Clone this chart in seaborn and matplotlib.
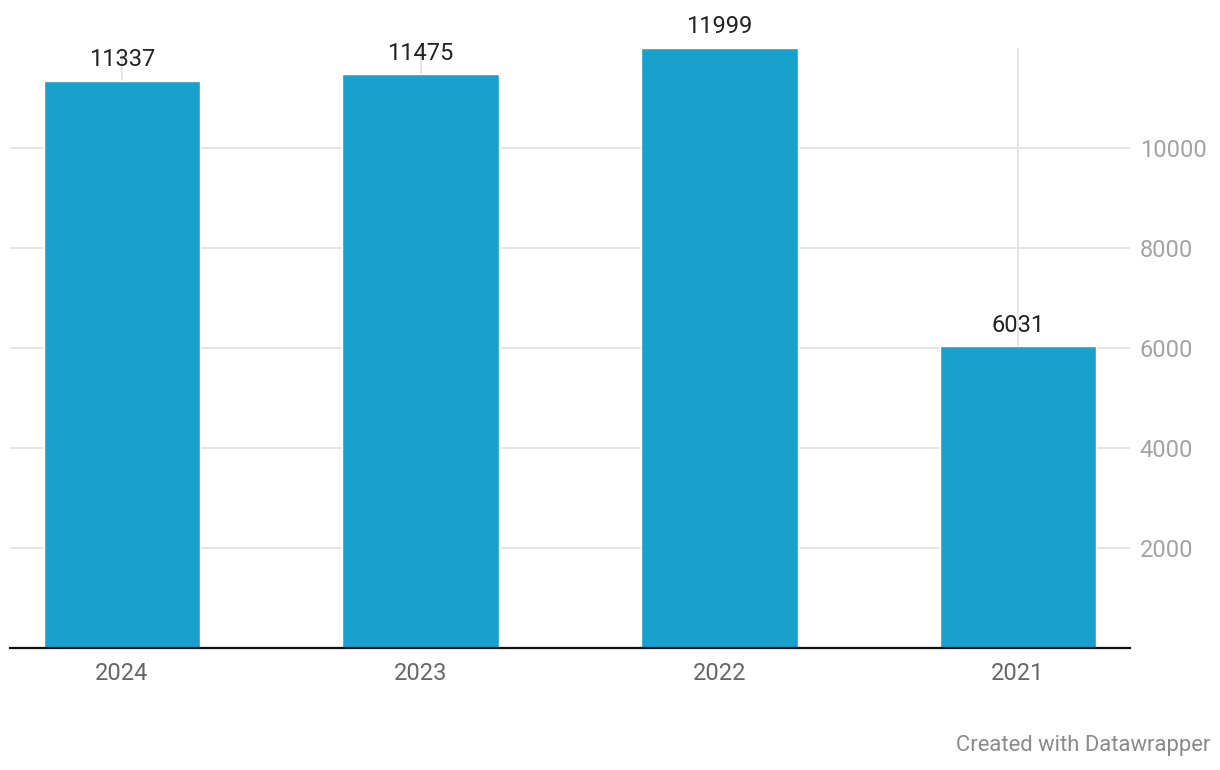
import pandas as pd
import matplotlib.pyplot as plt
import seaborn as sns

years = ['2024', '2023', '2022', '2021']
values = [11337, 11475, 11999, 6031]
y_ticks = [2000, 4000, 6000, 8000, 10000]

bar_color = '#19a1cd'
grid_color = '#e3e3e3'

sns.set_style('white')
plt.rcParams['font.family'] = ['Roboto', 'DejaVu Sans']

data = pd.DataFrame({'year': years, 'value': values})

fig = plt.figure(figsize=(12.2, 7.7), dpi=100)
ax = fig.add_axes([10 / 1220, 122 / 770, 1120 / 1220, 600 / 770])

sns.barplot(data=data, x='year', y='value', color=bar_color, width=0.525,
            saturation=1, ax=ax, zorder=3)

ax.set_xlim(-0.375, 3.375)
ax.set_ylim(0, 12000)
ax.set_yticks(y_ticks)
ax.yaxis.tick_right()
ax.grid(True, axis='both', color=grid_color, linewidth=1.3, zorder=0)
ax.set_axisbelow(True)
for s in ['top', 'left', 'right']:
    ax.spines[s].set_visible(False)
ax.spines['bottom'].set_color('#111111')
ax.spines['bottom'].set_linewidth(1.6)
ax.spines['bottom'].set_zorder(5)

ax.tick_params(axis='y', length=0, pad=7, labelsize=17, labelcolor='#a3a3a3')
ax.tick_params(axis='x', length=0, pad=10, labelsize=17, labelcolor='#666666')
ax.set_xlabel('')
ax.set_ylabel('')

for i, v in enumerate(values):
    ax.annotate(str(v), (i, v), xytext=(0, 7), textcoords='offset points',
                ha='center', va='bottom', fontsize=17, color='#222222',
                annotation_clip=False, zorder=6)

fig.text(1210 / 1220, 1 - 746 / 770, 'Created with Datawrapper', ha='right',
         va='center', fontsize=15.8, color='#8a8a8a')

fig.savefig('out.png', dpi=100, facecolor='white')
